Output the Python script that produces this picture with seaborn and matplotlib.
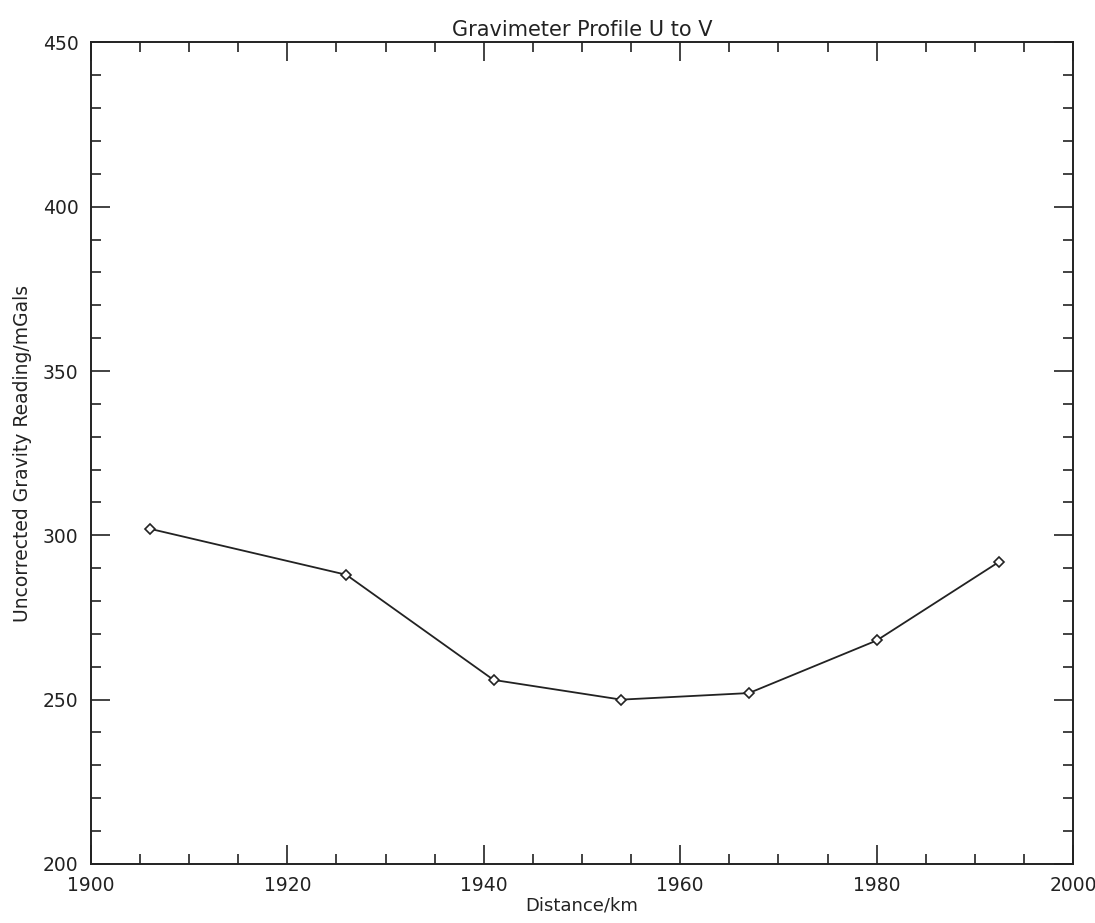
import matplotlib
matplotlib.use("Agg")
import matplotlib.pyplot as plt
from matplotlib.ticker import MultipleLocator
import seaborn as sns
import pandas as pd

distance_km = [1906, 1926, 1941, 1954, 1967, 1980, 1992.5]
gravity_mgal = [302, 288, 256, 250, 252, 268, 292]

x_ticks = [1900, 1920, 1940, 1960, 1980, 2000]
y_ticks = [200, 250, 300, 350, 400, 450]

df = pd.DataFrame({"Distance": distance_km, "Gravity": gravity_mgal})

sns.set_style("ticks")
plt.rcParams['font.family'] = ['DejaVu Sans']

fig = plt.figure(figsize=(10.95, 9.23), dpi=100)
ax = fig.add_axes([0.083, 0.064, 0.897, 0.89])

sns.lineplot(data=df, x="Distance", y="Gravity", ax=ax, color="#222222",
             linewidth=1.3, marker="D", markersize=5,
             markerfacecolor="white", markeredgecolor="#222222",
             markeredgewidth=1.2)

ax.set_xlim(1900, 2000)
ax.set_ylim(200, 450)
ax.set_xticks(x_ticks)
ax.set_yticks(y_ticks)
ax.xaxis.set_minor_locator(MultipleLocator(5))
ax.yaxis.set_minor_locator(MultipleLocator(10))
ax.tick_params(which="both", direction="in", top=True, right=True,
               color="#222222", width=1.2, labelsize=13.5, labelcolor="#222222")
ax.tick_params(which="major", length=14, pad=9)
ax.tick_params(which="minor", length=7)
for s in ax.spines.values():
    s.set_visible(True)
    s.set_linewidth(1.4)
    s.set_color("#222222")

ax.set_xlabel("Distance/km", fontsize=13, color="#222222", labelpad=1)
ax.set_ylabel("Uncorrected Gravity Reading/mGals", fontsize=13.5,
              color="#222222", labelpad=8)
ax.set_title("Gravimeter Profile U to V", fontsize=15, color="#222222", pad=5)

fig.savefig("out.png", dpi=100)
